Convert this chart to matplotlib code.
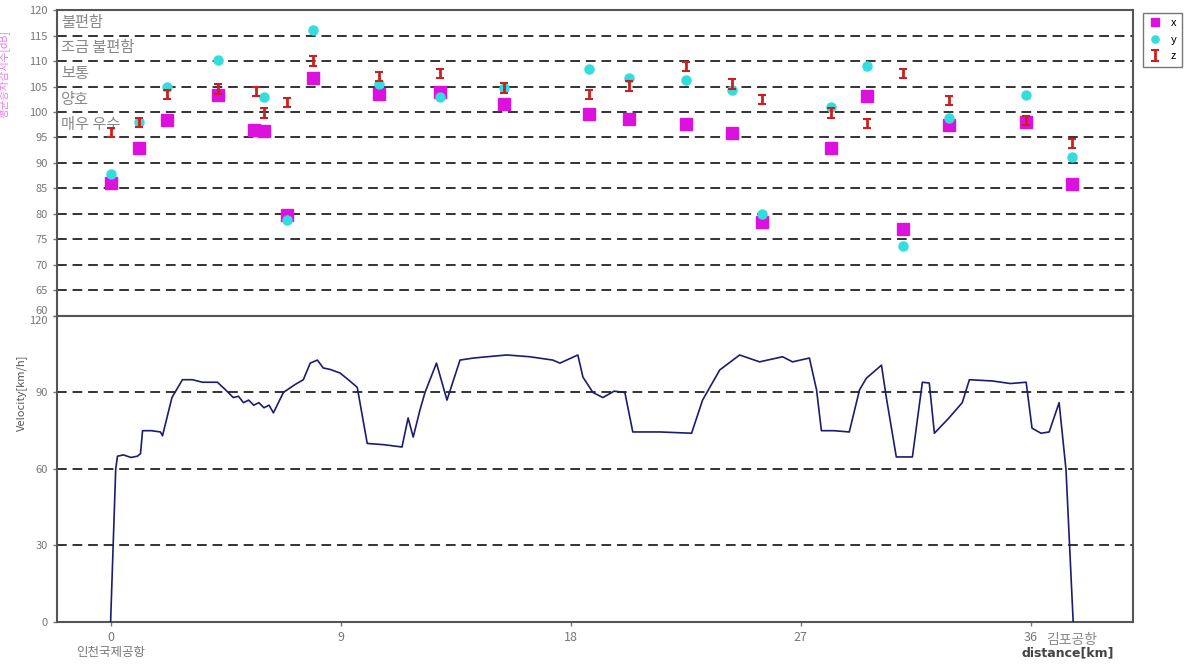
import numpy as np
import matplotlib
matplotlib.use("Agg")
import matplotlib.pyplot as plt

plt.rcParams['font.family'] = ['Noto Sans CJK KR', 'DejaVu Sans']

# 측정 지점 (km) 과 승차감 값 [dB]
pos_km = [0.0, 1.1, 2.2, 4.2, 5.7, 6.0, 6.9, 7.9, 10.5, 12.9, 15.4, 18.7, 20.3,
          22.5, 24.3, 25.5, 28.2, 29.6, 31.0, 32.8, 35.8, 37.6]
val_x = [86, 93, 98.4, 103.3, None, 96.3, 79.8, 106.7, 103.5, 104, 101.6, 99.6, 98.6,
         97.6, 95.9, 78.4, 93, 103.1, 77.1, 97.5, 98, 85.9]
val_y = [87.8, 98, 105, 110.2, None, 103, 78.8, 116, 105.5, 103, 104.7, 108.4, 106.7,
         106.3, 104.3, 80, 101, 109, 73.7, 98.8, 103.3, 91.2]
val_z = [95.9, 98, 103.5, 104.5, 104, 99.8, 101.8, 110, 106.9, 107.5, 104.7, 103.5, 105.1,
         109, 105.5, 102.5, 99.8, 97.8, 107.5, 102.2, 98.4, 93.9]
# 5.7 km 지점 x값
extra_x_km = [5.6]
extra_x_val = [96.4]

# 주행 속도 프로파일
dist = [0.0, 0.2, 0.27, 0.5, 0.8, 1.05, 1.17, 1.25, 1.6, 1.95, 2.03, 2.4, 2.81, 3.2, 3.6,
        4.18, 4.5, 4.8, 5.0, 5.2, 5.4, 5.6, 5.8, 6.0, 6.2, 6.37, 6.76, 7.2, 7.54, 7.81,
        8.09, 8.32, 8.6, 8.98, 9.3, 9.65, 10.04, 10.7, 11.4, 11.64, 11.84, 12.1, 12.3,
        12.75, 13.16, 13.67, 14.2, 14.73, 15.5, 16.4, 17.3, 17.58, 18.28, 18.48, 18.87,
        19.26, 19.7, 20.12, 20.43, 21.5, 22.73, 23.16, 23.83, 24.61, 25.39, 26.29,
        26.68, 27.34, 27.62, 27.81, 28.3, 28.9, 29.3, 29.57, 30.16, 30.35, 30.74,
        31.37, 31.76, 32.03, 32.23, 32.8, 33.32, 33.6, 34.5, 35.2, 35.82, 36.05,
        36.4, 36.72, 37.11, 37.38, 37.66]
speed = [0, 60, 65, 65.5, 64.5, 65, 66, 75, 75, 74.5, 73, 88, 95, 95, 94,
         94, 91, 88, 88.5, 86, 87, 85, 86, 84, 85, 82, 90, 93, 95, 101.5,
         102.7, 99.6, 99, 97.6, 95, 92, 70, 69.5, 68.6, 80, 72.5, 83, 90,
         101.5, 87, 102.7, 103.5, 104, 104.7, 104, 102.7, 101.5, 104.7, 96, 90,
         88, 90.5, 90, 74.5, 74.5, 74, 87, 98.8, 104.7, 102, 104,
         102, 103.5, 91, 75, 75, 74.5, 91, 95.6, 100.7, 88, 64.7,
         64.7, 94, 93.7, 74, 80, 86, 95, 94.5, 93.5, 94, 76,
         74, 74.5, 86, 59.6, 0]

rating_labels = ['불편함', '조금 불편함', '보통', '양호', '매우 우수']
rating_y = [117.6, 112.7, 107.6, 102.5, 97.6]

fig = plt.figure(figsize=(11.86, 6.68), dpi=100)
ax1 = fig.add_axes([0.048, 0.527, 0.9073, 0.458])
ax2 = fig.add_axes([0.048, 0.069, 0.9073, 0.458], sharex=ax1)

grid_kw = dict(color='#333333', lw=1.4, ls=(0, (5, 3)), zorder=1)

# 상단: 승차감
for yy in range(65, 120, 5):
    ax1.axhline(yy, **grid_kw)

def clean(xs, vs):
    pts = [(a, b) for a, b in zip(xs, vs) if b is not None]
    return [p[0] for p in pts], [p[1] for p in pts]

xx, xv = clean(pos_km, val_x)
xx = xx + extra_x_km
xv = xv + extra_x_val
yx, yv = clean(pos_km, val_y)
ax1.plot(xx, xv, 's', color='#dd11dd', ms=8, zorder=3, label='x')
ax1.plot(yx, yv, 'o', color='#33dddd', ms=6.5, zorder=3, label='y')
ax1.errorbar(pos_km, val_z, yerr=0.9, fmt='none', ecolor='#cc2020',
             elinewidth=2, capsize=3, capthick=1.5, zorder=4, label='z')

for lab, yy in zip(rating_labels, rating_y):
    ax1.text(-1.95, yy, lab, color='#888888', fontsize=11, va='center', ha='left')

ax1.set_ylim(60, 120)
ax1.set_yticks(range(60, 121, 5))
ax1.tick_params(axis='x', bottom=False, labelbottom=False)
ax1.set_ylabel('평균승차감지수[dB]', color='#ee77ee', fontsize=7.5)
ax1.yaxis.set_label_coords(-0.044, 0.79)

# 하단: 속도
for yy in [30, 60, 90]:
    ax2.axhline(yy, **grid_kw)
ax2.plot(dist, speed, color='#1c1c70', lw=1.2, zorder=3)
ax2.set_ylim(0, 120)
ax2.set_yticks([0, 30, 60, 90, 120])
ax2.set_xlim(-2.1, 40)
ax2.set_xticks([0, 9, 18, 27, 36])
ax2.set_xticklabels(['0\n인천국제공항', '9', '18', '27', '36'])
ax2.text(37.6, -4.5, '김포공항', color='#888888', fontsize=10, ha='center', va='top')
ax2.set_ylabel('Velocity[km/h]', color='#555555', fontsize=8)
ax2.yaxis.set_label_coords(-0.028, 0.75)
fig.text(0.9, 0.018, 'distance[km]', fontsize=9, color='#444444', ha='center',
         fontweight='bold', family='DejaVu Sans')

for ax in (ax1, ax2):
    for sp in ax.spines.values():
        sp.set_color('#555555')
        sp.set_linewidth(1.5)
    ax.tick_params(colors='#777777', labelsize=8, length=3, width=1)
for lab in ax2.get_xticklabels():
    lab.set_fontsize(9)

# 60 / 120 눈금 글자가 겹치지 않게
fig.canvas.draw()
ax1.get_yticklabels()[0].set_va('bottom')
ax2.get_yticklabels()[-1].set_va('top')

ax1.legend(loc='upper left', bbox_to_anchor=(1.004, 1.01), frameon=True, fontsize=8,
           handlelength=1.2, borderpad=0.5, labelspacing=0.6, handletextpad=0.8,
           fancybox=False, edgecolor='#555555', markerscale=0.8)

fig.savefig('out.png', dpi=100)
